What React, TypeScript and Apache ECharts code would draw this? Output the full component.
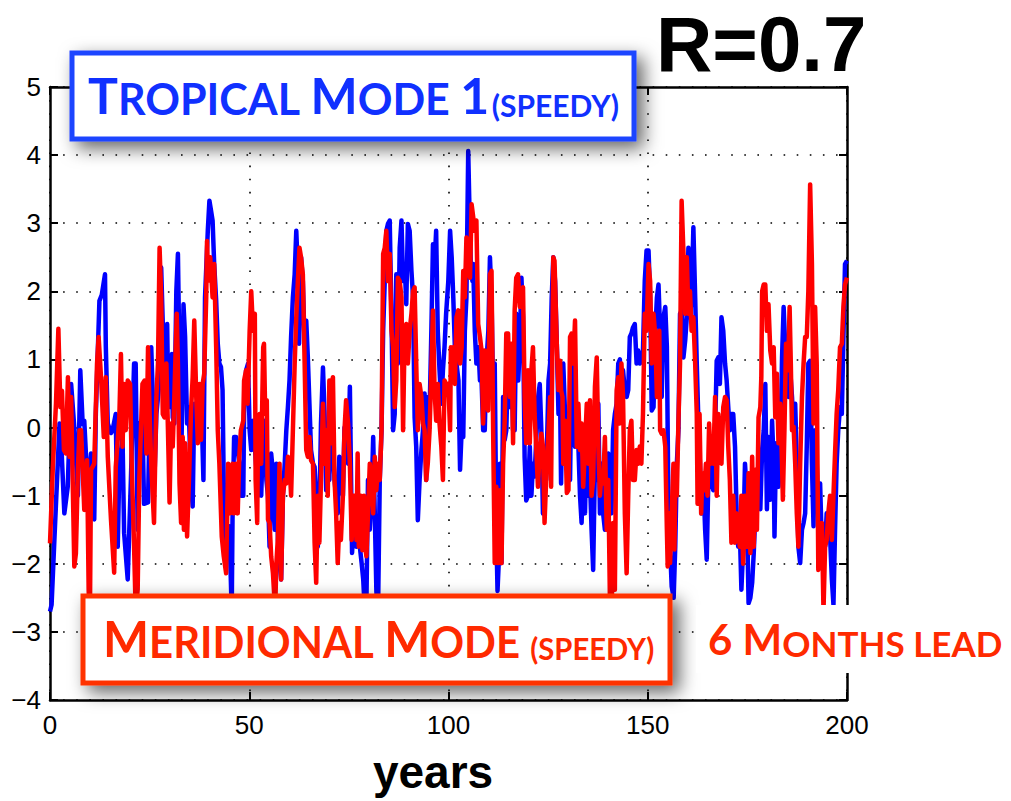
import React, { useEffect, useRef } from "react";
import * as echarts from "echarts";

// Tropical Mode 1 (SPEEDY) — [year, value]
const tropicalMode1: [number, number][] = [
  [0,-2.7],[0.4,-2.6],[1.1,-1.65],[1.95,-0.53],[2.4,0.06],[2.8,-0.2],[3.6,-1.26],[4.45,-0.87],[5.3,0.64],[6.1,0.0],[7.0,-1.0],[7.6,0.84],[8.2,0.05],[8.6,0.1],[9.5,-0.96],[10.3,-0.38],[11.1,-1.35],[11.5,0.2],[12.4,1.86],[13.0,1.95],[13.8,2.25],[14.0,1.2],[14.5,0.06],[15.3,-0.08],[15.7,-0.04],[16.5,0.2],[17.0,-1.75],[17.4,-0.58],[18.2,-0.14],[18.6,-1.55],[19.5,-2.23],[20.3,-0.77],[21.1,0.94],[21.5,0.94],[22.0,-1.5],[22.4,0.06],[23.2,0.1],[23.6,-1.12],
  [24.6,-1.1],[25.0,0.15],[25.4,1.18],[25.8,0.45],[26.2,-0.77],[26.7,0.2],[27.5,0.69],[27.9,2.35],[28.3,1.52],[28.7,0.45],[29.4,1.52],[29.7,0.3],[30.2,0.3],[30.6,1.08],[30.8,0.15],[31.2,0.06],[31.7,2.0],[32.1,2.55],[32.5,0.94],[32.9,-0.67],[33.5,1.81],[33.9,1.33],[34.4,0.06],[34.8,0.3],[35.4,-0.82],[35.8,-1.16],[36.2,0.35],[36.9,0.3],[37.2,-0.18],[37.9,0.55],[38.5,-0.77],[38.9,1.91],[39.6,2.89],[40.0,3.33],[40.4,3.19],[40.8,3.04],[41.2,2.4],[41.7,1.86],[42.1,1.23],[42.5,0.94],[42.9,0.89],[43.3,0.55],[43.7,-1.3],[44.2,-1.89],[45.0,-1.45],[45.6,-2.7],[45.8,-1.35],[46.2,-0.14],[46.7,-0.14],[47.5,-0.53],[47.9,-1.0],[48.5,-1.0],[48.7,0.2],[49.2,0.84],
  [49.7,0.94],[50.1,-0.04],[50.5,-0.33],[50.95,0.1],[51.4,-0.28],[51.8,-0.62],[52.2,-1.0],[52.6,-0.53],[53.0,-1.0],[53.5,-0.04],[53.9,0.1],[54.3,-0.77],[54.7,-1.0],[55.1,-1.75],[55.5,-0.38],[55.95,-0.67],[56.4,-1.5],[56.8,-0.53],[57.2,-1.65],[57.6,-1.99],[58.0,-2.23],[58.45,-1.0],[58.9,-0.53],[59.3,-0.04],[59.7,0.3],[60.1,0.69],[60.5,1.33],[60.95,1.91],[61.4,2.25],[61.8,2.89],[62.2,2.3],[62.5,1.23],[63.0,2.5],[63.45,2.15],[63.9,1.18],[64.3,1.57],[64.7,1.03],[65.1,0.35],[65.5,-0.33],[66.0,-0.53],[66.4,-0.58],[66.8,-1.0],[67.2,-1.75],[67.6,-1.26],[68.0,0.06],[68.5,0.88],[68.9,0.2],[69.3,-0.92],[69.7,-0.04],[70.1,-0.77],[70.5,0.45],[70.95,-0.28],[71.4,-0.77],[72.2,-1.26],[72.6,-0.43],[73.0,-0.67],[73.5,-1.0],[73.9,0.0],
  [74.4,-0.04],[74.8,-0.53],[75.25,0.6],[75.5,-0.53],[75.8,-1.84],[76.3,-1.26],[76.9,-1.75],[77.3,-1.26],[77.75,-1.75],[78.2,-1.99],[78.6,-2.23],[79.0,-2.7],[79.4,-2.6],[79.8,-0.77],[80.25,-1.5],[80.7,-1.0],[81.1,-0.14],[81.5,-1.26],[81.9,-2.4],[82.3,-2.8],[82.75,-0.77],[83.2,-0.04],[83.6,1.42],[84.0,2.15],[84.4,2.89],[84.8,2.99],[85.25,3.04],[85.7,1.62],[86.1,-0.04],[86.5,0.2],[86.9,2.25],[87.3,0.94],[87.75,2.64],[88.2,3.04],[88.6,2.15],[89.0,2.4],[89.4,1.81],[89.8,2.99],[90.25,2.89],[90.7,2.3],[91.1,1.91],[91.5,0.15],[91.9,-0.28],[92.3,-1.36],[92.75,-0.77],[93.2,-0.33],[93.6,-0.04],[94.0,0.5],[94.4,-0.77],[94.8,0.45],[95.25,0.2],[95.7,1.42],[96.1,2.69],[96.5,2.4],[96.9,2.89],[97.3,1.42],[97.75,0.84],[98.2,0.35],[98.6,0.84],[99.0,1.18],[99.4,1.67],
  [99.95,2.15],[100.4,2.89],[100.8,2.5],[101.2,1.91],[101.6,1.18],[102.0,0.94],[102.5,0.69],[102.9,-0.62],[103.3,-0.04],[103.7,-0.14],[104.1,1.42],[104.5,1.91],[104.95,4.06],[105.2,3.37],[105.6,2.4],[106.0,2.15],[106.2,2.4],[106.6,1.42],[107.0,0.94],[107.5,1.18],[107.9,0.69],[108.3,0.69],[108.7,-0.04],[109.1,-0.04],[109.5,0.94],[110.0,1.42],[110.4,2.5],[110.8,1.91],[111.2,0.45],[111.6,0.94],[112.0,-1.5],[112.3,-2.4],[112.6,-1.99],[112.9,-0.53],[113.3,-1.99],[113.7,0.45],[114.1,-0.18],[114.5,-0.04],[114.95,0.94],[115.4,0.3],[115.8,1.13],[116.2,-0.04],[116.6,-0.04],[117.0,1.67],[117.5,0.69],[117.9,1.23],[118.3,2.2],[118.7,1.62],[119.1,-0.43],[119.5,-1.07],[119.95,-1.0],[120.4,-0.28],[120.8,-1.0],[121.2,-0.53],[121.6,-0.72],[122.5,0.45],[122.9,0.64],[123.3,-0.04],[123.7,-1.26],[124.1,-0.53],[124.5,-0.77],
  [125.1,0.69],[125.5,0.94],[125.9,1.91],[126.3,2.5],[126.75,2.15],[127.2,1.18],[127.6,0.2],[128.0,0.45],[128.25,-0.82],[128.8,0.94],[129.25,0.2],[129.7,-0.53],[130.1,-0.53],[130.5,-0.77],[130.9,0.94],[131.3,1.33],[131.75,-0.28],[132.2,0.2],[132.6,-0.28],[133.0,-1.0],[133.4,-1.4],[133.8,-0.53],[134.25,-1.26],[134.7,-0.04],[135.1,-1.0],[135.5,-0.77],[135.9,-1.5],[136.3,-2.09],[136.75,-0.53],[137.2,-0.77],[137.6,0.35],[138.0,-1.26],[138.4,-0.53],[138.8,-1.26],[139.25,-1.5],[139.7,-0.53],[140.1,-0.38],[140.5,-0.72],[140.9,-1.26],[141.3,-0.04],[141.75,0.2],[142.2,0.35],[142.6,0.94],[143.0,1.0],[143.4,0.45],[143.8,0.84],[144.25,0.55],[144.7,0.45],[145.1,0.55],[145.5,1.33],[145.9,1.38],[146.3,1.47],[146.75,1.52],[147.2,0.94],[147.6,1.13],[148.0,0.94],[148.4,0.98],[148.8,1.13],[149.25,2.15],[149.7,2.6],
  [150.2,2.6],[150.6,1.91],[151.0,0.25],[151.45,0.3],[151.9,1.42],[152.3,1.91],[152.7,2.1],[153.1,1.42],[153.5,0.45],[153.95,1.62],[154.4,1.77],[154.8,1.18],[155.2,-1.26],[155.6,-1.75],[156.0,-2.33],[156.5,-2.5],[156.9,-1.75],[157.3,-0.53],[157.7,-0.04],[158.1,1.67],[158.55,1.72],[158.95,1.03],[159.4,1.28],[159.8,1.62],[160.2,2.64],[160.6,1.62],[161.0,1.91],[161.45,2.94],[161.9,1.91],[162.3,0.94],[162.7,0.1],[163.1,-0.53],[163.5,-1.26],[163.95,-0.77],[164.4,-1.5],[164.8,-1.94],[165.2,-0.77],[165.6,-0.53],[166.0,-0.82],[166.45,-0.92],[166.9,-0.04],[167.3,0.98],[167.7,1.03],[168.1,0.64],[168.5,1.62],[168.95,1.42],[169.4,0.94],[169.8,0.69],[170.2,0.3],[170.6,-0.04],[171.0,0.2],[171.45,0.2],[171.9,-0.28],[172.3,-1.26],[172.7,-1.75],[173.1,-1.5],[173.5,-2.38],[173.95,-1.75],[174.4,-0.53],[174.8,-0.92],
  [175.3,-2.58],[175.75,-2.5],[176.2,-2.28],[176.6,-1.84],[177.0,-1.26],[177.4,-0.77],[177.8,-0.77],[178.25,-1.2],[178.7,-0.33],[179.1,-0.04],[179.5,0.64],[179.9,-1.2],[180.3,-0.14],[180.75,-1.06],[181.2,0.1],[181.6,-0.53],[181.8,-1.6],[182.2,-0.23],[182.4,-0.53],[182.8,-0.87],[183.25,-0.43],[183.7,1.03],[184.1,1.77],[184.5,1.18],[184.9,0.94],[185.3,0.45],[185.75,0.84],[186.2,0.45],[186.6,-0.04],[187.0,0.35],[187.4,-0.53],[187.8,-1.75],[188.25,-1.99],[188.7,-1.5],[189.1,-1.4],[189.5,-1.26],[189.9,-0.28],[190.3,0.94],[190.75,0.98],[191.2,-0.53],[191.6,-1.45],[192.0,-0.04],[192.4,-0.53],[192.8,-1.26],[193.25,-0.82],[193.7,-1.75],[194.1,-1.5],[194.5,-1.75],[194.9,-1.26],[195.3,-1.5],[195.75,-1.6],[196.2,-2.23],[196.6,-2.6],[197.0,-1.5],[197.4,-0.53],[197.8,-0.04],[198.25,0.3],[198.7,0.2],[199.1,1.33],[199.5,2.4],[200,2.45],
];

// Meridional Mode (SPEEDY), 6 months lead — [year, value]
const meridionalMode: [number, number][] = [
  [0,-1.7],[0.7,-0.6],[1.5,0.35],[2.1,1.45],[2.6,0.3],[3.0,0.54],[3.5,-0.33],[4.0,-0.38],[4.5,0.74],[4.9,-0.43],[5.3,0.45],[6.1,-2.04],[6.5,-1.85],[7.0,-0.62],[7.4,-0.04],[7.8,-0.04],[8.6,-1.21],[9.3,-0.48],[9.7,-2.38],[10.0,-2.9],[10.3,-0.62],[11.1,-0.53],[11.8,0.94],[12.2,1.33],[12.8,0.74],[13.5,-0.14],[14.0,0.74],[14.5,-0.43],[15.3,-1.35],[16.1,-2.13],[16.5,-0.58],[17.4,0.15],[17.8,1.08],[18.2,-0.28],[18.6,0.64],[19.0,-0.04],[19.5,0.69],[20.1,0.64],[20.5,-0.53],[21.1,-1.75],[21.5,-2.7],[22.0,-2.38],[22.4,-0.77],[23.2,0.64],
  [23.74,0.69],[24.2,-0.38],[24.6,1.18],[25.0,0.2],[25.4,-0.53],[26.1,-1.4],[26.7,0.45],[27.1,0.94],[27.5,2.64],[27.9,1.91],[28.3,0.2],[28.7,0.15],[29.2,0.94],[29.6,-0.04],[30.0,-1.1],[30.4,0.06],[30.8,-0.28],[31.2,0.45],[31.8,1.67],[32.1,0.94],[32.5,-0.82],[32.9,-1.4],[33.3,-0.14],[33.6,-1.5],[33.9,-0.23],[34.4,-1.6],[35.0,-0.53],[35.4,0.25],[35.8,0.74],[36.2,1.57],[36.7,0.45],[37.1,-0.23],[37.5,0.64],[37.9,-0.18],[38.3,0.64],[38.7,0.79],[39.2,1.91],[39.4,2.74],[39.7,2.16],[40.2,2.5],[40.8,1.91],[41.2,2.4],[41.7,1.18],[42.1,-0.04],[42.5,-0.53],[43.1,-1.6],[43.6,-1.89],[44.2,-2.14],[44.7,-0.53],[45.2,-1.26],[45.8,-0.53],[46.2,-1.26],[46.7,-0.53],[47.1,-1.26],[47.5,-0.43],[47.9,-0.04],[48.5,0.1],[48.7,0.69],[49.2,0.84],[49.6,0.35],
  [50.1,1.42],[50.5,2.0],[50.95,1.42],[51.4,1.67],[51.6,-0.77],[52.0,-1.4],[52.2,-0.04],[52.6,0.2],[53.0,-0.53],[53.5,1.18],[53.7,1.23],[54.0,0.2],[54.4,0.4],[54.7,-1.35],[55.1,-1.4],[55.5,-1.89],[55.95,-2.14],[56.5,-2.7],[56.8,-2.0],[57.2,-1.6],[57.6,-0.53],[58.0,-2.23],[58.45,-1.0],[58.9,-0.77],[59.3,-0.82],[59.7,-0.43],[60.1,-0.53],[60.5,-1.0],[60.95,-0.04],[61.4,0.94],[61.8,1.62],[62.2,2.15],[62.6,2.64],[63.0,2.5],[63.45,2.25],[63.9,0.94],[64.3,-0.33],[64.7,-0.43],[65.1,-0.14],[65.5,-0.48],[66.0,-0.53],[66.4,-1.69],[66.8,-2.28],[67.2,-1.0],[67.6,-1.69],[68.0,-0.77],[68.5,0.35],[68.9,-0.53],[69.3,-0.04],[69.7,-1.0],[70.1,0.69],[70.4,-0.23],[70.7,0.64],[71.0,0.74],[71.4,-0.77],[71.8,-1.26],[72.2,-1.99],[72.6,-1.4],[73.0,-1.65],[73.5,-1.0],[73.9,-0.04],[74.3,0.4],
  [74.8,0.06],[75.25,-0.53],[75.7,-1.65],[76.1,-1.0],[76.5,-1.0],[76.9,-1.65],[77.2,-0.38],[77.5,-1.75],[78.0,-1.0],[78.4,-1.8],[78.8,-1.0],[79.2,-1.8],[79.4,-1.89],[79.8,-1.26],[80.25,-0.53],[80.7,-0.77],[81.1,-1.26],[81.5,-0.43],[81.9,-0.92],[82.3,-0.53],[82.75,-0.77],[83.2,-0.04],[83.6,2.55],[84.0,2.64],[84.4,2.89],[84.8,2.15],[85.25,2.55],[85.7,1.42],[86.1,1.18],[86.5,0.3],[86.9,0.69],[87.3,2.2],[87.75,2.15],[88.2,1.91],[88.6,-0.04],[89.0,1.42],[89.4,1.52],[89.8,0.94],[90.25,1.42],[90.7,1.67],[91.1,2.0],[91.5,2.06],[91.9,0.94],[92.3,-0.04],[92.75,0.64],[93.2,0.45],[93.6,0.06],[94.0,-0.04],[94.4,-0.77],[94.8,-0.53],[95.25,-0.04],[95.7,0.84],[96.1,1.72],[96.5,0.55],[96.9,0.1],[97.3,0.64],[97.75,0.06],[98.2,-0.28],[98.6,-0.77],[99.0,0.69],[99.4,0.64],
  [99.95,0.64],[100.4,-0.04],[100.6,1.18],[100.95,0.69],[101.2,1.18],[101.6,0.64],[102.0,1.62],[102.45,1.72],[102.9,0.94],[103.3,1.18],[103.7,2.3],[104.1,1.91],[104.5,2.79],[104.95,2.4],[105.4,2.2],[105.8,3.28],[106.2,3.09],[106.6,2.89],[107.0,3.04],[107.45,1.52],[107.9,1.33],[108.3,1.13],[108.7,0.06],[109.1,1.13],[109.5,0.45],[109.95,0.25],[110.4,2.25],[110.8,2.3],[111.2,-0.04],[111.6,-1.99],[112.0,-0.87],[112.45,-1.99],[112.9,-0.92],[113.3,-1.99],[113.7,-0.53],[114.1,0.1],[114.5,1.38],[114.95,1.38],[115.4,0.45],[115.8,1.23],[116.2,-0.23],[116.6,1.72],[117.0,2.2],[117.45,2.25],[117.9,1.77],[118.3,1.91],[118.7,2.06],[119.1,0.45],[119.5,-0.23],[119.95,0.84],[120.4,-0.23],[120.8,0.84],[121.2,1.18],[121.6,0.2],[122.0,-0.28],[122.45,-0.87],[122.9,-0.33],[123.3,-0.09],[123.7,-0.28],[124.1,-1.4],[124.5,-0.77],
  [125.1,-0.04],[125.5,0.45],[125.75,-0.87],[126.1,1.42],[126.3,2.5],[126.6,2.45],[126.9,1.81],[127.2,1.18],[127.6,0.55],[128.0,0.98],[128.25,0.55],[128.6,0.45],[128.8,-0.53],[129.25,0.1],[129.7,-0.96],[130.1,-0.92],[130.5,1.33],[130.9,1.38],[131.3,0.94],[131.75,1.57],[132.2,-0.28],[132.6,0.35],[133.0,-0.33],[133.4,0.06],[133.8,-0.87],[134.25,-0.28],[134.7,0.35],[135.1,-0.53],[135.5,0.4],[135.9,-1.0],[136.3,-0.77],[136.75,0.6],[137.2,1.03],[137.6,-0.28],[138.0,-1.0],[138.4,-0.67],[138.8,-0.82],[139.25,-0.14],[139.7,-1.5],[140.1,-0.77],[140.5,-2.5],[140.9,-2.9],[141.3,-1.4],[141.75,-2.38],[142.2,0.55],[142.6,0.74],[143.0,0.06],[143.4,0.94],[143.8,0.45],[144.25,-1.26],[144.7,-2.14],[145.1,-1.0],[145.5,-0.04],[145.9,0.1],[146.3,-0.77],[146.75,-0.77],[147.2,-0.33],[147.6,-0.53],[148.0,-0.28],[148.4,-0.53],[148.8,0.2],[149.25,1.67],[149.7,1.42],
  [150.2,2.4],[150.6,2.15],[151.0,0.94],[151.45,1.67],[151.9,1.33],[152.3,0.45],[152.5,0.94],[152.9,1.42],[153.1,-0.04],[153.5,-0.09],[153.95,-0.04],[154.4,-0.28],[154.8,-1.5],[155.0,-2.04],[155.4,-1.26],[155.6,-1.99],[156.0,-1.26],[156.45,-0.53],[156.7,-1.79],[157.0,-0.53],[157.3,-1.0],[157.7,0.1],[158.1,0.94],[158.5,3.33],[159.0,2.5],[159.4,1.67],[159.8,2.5],[160.2,1.67],[160.6,2.0],[161.0,1.42],[161.45,1.62],[161.9,0.94],[162.3,0.2],[162.5,-1.12],[163.0,0.2],[163.4,-1.26],[163.7,-0.67],[164.2,-0.92],[164.6,-0.53],[165.0,-1.0],[165.4,0.06],[165.8,-0.53],[166.0,-0.14],[166.45,-0.53],[166.9,0.45],[167.3,-1.0],[167.7,0.2],[168.1,-0.18],[168.5,-0.53],[168.95,0.3],[169.4,0.45],[169.8,0.4],[170.2,-0.28],[170.6,-0.77],[171.0,-1.69],[171.45,-1.0],[171.9,-1.69],[172.3,-1.26],[172.7,-1.5],[173.1,-1.75],[173.5,-1.0],[173.95,-2.0],[174.4,-1.0],
  [174.9,-1.75],[175.3,-0.67],[175.75,-1.84],[176.2,-0.43],[176.6,-1.75],[177.0,-0.62],[177.4,-1.5],[177.8,0.15],[178.25,0.3],[178.5,0.74],[178.7,2.0],[179.1,2.1],[179.5,2.1],[179.9,1.42],[180.3,1.81],[180.75,1.13],[181.2,0.94],[181.6,1.18],[182.0,0.15],[182.4,0.79],[182.8,-0.23],[183.25,0.35],[183.7,-0.53],[183.9,-1.06],[184.3,-0.04],[184.7,1.23],[185.2,0.84],[185.6,1.77],[185.9,0.94],[186.2,-0.04],[186.6,0.01],[187.0,-0.53],[187.4,-1.26],[187.8,-1.75],[188.25,-0.53],[188.7,0.45],[189.1,0.94],[189.5,1.33],[189.9,1.33],[190.3,2.0],[190.75,3.57],[191.2,2.4],[191.6,0.06],[192.0,1.77],[192.4,0.94],[192.8,-2.09],[193.25,-1.75],[193.7,-1.4],[194.1,-2.7],[194.5,-1.75],[194.9,-1.65],[195.3,-1.26],[195.75,-1.0],[196.2,-1.65],[196.6,-1.0],[197.0,-0.38],[197.4,0.2],[197.8,0.55],[198.25,1.18],[198.7,1.23],[199.1,1.77],[199.5,2.1],[200,2.2],
];

const xMin = 0, xMax = 200, xStep = 50;
const yMin = -4, yMax = 5, yStep = 1;

const BLUE_TXT = "#1030ff";
const RED_TXT = "#ff2a00";
const boxFont = "Lato";

const fmtY = (v: number) => (v < 0 ? "\u2212" + Math.abs(v) : String(v));

export default function App() {
  const ref = useRef<HTMLDivElement>(null);
  useEffect(() => {
    const chart = echarts.init(ref.current!, undefined, { renderer: "svg" });
    const frameLine = { show: true, onZero: false, lineStyle: { color: "#000", width: 2.5 } };
    const tick = { show: true, inside: true, length: 8, lineStyle: { color: "#000", width: 2 } };
    const grid = { show: true, lineStyle: { color: "#000", width: 1.6, type: [1.6, 11.5] as any } };
    const label = { fontSize: 26, color: "#000", fontFamily: "Liberation Sans" };
    const tok = (size: number, color: string) => ({
      fontSize: size, lineHeight: size, fontFamily: boxFont, fontWeight: "bold", fill: color, color, verticalAlign: "bottom",
    });
    const richSmallCaps = (color: string, big: number, sm: number, xs: number) => ({
      big: tok(big, color), sm: tok(sm, color), xs: tok(xs, color),
    });
    const option: any = {
      animation: false,
      backgroundColor: "#fff",
      grid: { left: 50, right: 164, top: 87, bottom: 101, containLabel: false },
      xAxis: [
        {
          type: "value", min: xMin, max: xMax, interval: xStep, position: "bottom",
          axisLine: frameLine, axisTick: tick, splitLine: grid,
          axisLabel: { ...label, margin: 12 },
        },
        {
          type: "value", min: xMin, max: xMax, interval: xStep, position: "top",
          axisLine: frameLine, axisTick: tick, splitLine: { show: false }, axisLabel: { show: false },
        },
      ],
      yAxis: [
        {
          type: "value", min: yMin, max: yMax, interval: yStep, position: "left",
          axisLine: frameLine, axisTick: tick, splitLine: grid,
          axisLabel: { ...label, margin: 9, formatter: fmtY },
        },
        {
          type: "value", min: yMin, max: yMax, interval: yStep, position: "right",
          axisLine: frameLine, axisTick: tick, splitLine: { show: false }, axisLabel: { show: false },
        },
      ],
      series: [
        {
          name: "Tropical Mode 1 (SPEEDY)", type: "line", data: tropicalMode1,
          showSymbol: false, symbol: "none", clip: true,
          lineStyle: { color: "#0000ff", width: 4.5, join: "round" },
        },
        {
          name: "Meridional Mode (SPEEDY)", type: "line", data: meridionalMode,
          showSymbol: false, symbol: "none", clip: true,
          lineStyle: { color: "#ff0000", width: 4.5, join: "round" },
        },
      ],
      graphic: [
        {
          type: "rect", z: 100,
          shape: { x: 72, y: 53, width: 562, height: 86 },
          style: { fill: "#fff", stroke: "#1f45ff", lineWidth: 5, shadowBlur: 18, shadowColor: "rgba(0,0,0,0.6)", shadowOffsetX: 7, shadowOffsetY: 7 },
        },
        {
          type: "text", z: 101, x: 88, y: 95,
          style: {
            text: "{big|T}{sm|ROPICAL }{big|M}{sm|ODE }{big|1} {xs|(SPEEDY)}",
            align: "left", verticalAlign: "middle", rich: richSmallCaps(BLUE_TXT, 50, 43, 30),
            fontSize: 10, fontFamily: boxFont, fill: BLUE_TXT,
          },
        },
        {
          type: "rect", z: 100,
          shape: { x: 83, y: 596, width: 587, height: 87 },
          style: { fill: "#fff", stroke: "#ff3300", lineWidth: 5, shadowBlur: 18, shadowColor: "rgba(0,0,0,0.6)", shadowOffsetX: 7, shadowOffsetY: 7 },
        },
        {
          type: "text", z: 101, x: 103, y: 638, scaleX: 0.975,
          style: {
            text: "{big|M}{sm|ERIDIONAL }{big|M}{sm|ODE }{xs|(SPEEDY)}",
            align: "left", verticalAlign: "middle", rich: richSmallCaps(RED_TXT, 50, 43, 30),
          },
        },
        {
          type: "rect", z: 100,
          shape: { x: 696, y: 605, width: 315, height: 68 },
          style: { fill: "#fff" },
        },
        {
          type: "text", z: 101, x: 708, y: 639,
          style: {
            text: "{big|6 M}{sm|ONTHS LEAD}",
            align: "left", verticalAlign: "middle", rich: richSmallCaps(RED_TXT, 42, 35, 24),
          },
        },
        {
          type: "text", z: 101, x: 656, y: 44,
          style: {
            text: "R=0.7", fill: "#000", font: "bold 78px 'Liberation Sans'",
            align: "left", verticalAlign: "middle",
          },
        },
        {
          type: "text", z: 101, x: 433, y: 772,
          style: {
            text: "years", fill: "#000", font: "bold 46px 'Liberation Sans'",
            align: "center", verticalAlign: "middle",
          },
        },
      ],
    };
    chart.setOption(option);
    return () => chart.dispose();
  }, []);
  return (
    <div
      ref={ref}
      style={{ position: "absolute", left: 0, top: 0, width: 1011, height: 801, background: "#fff" }}
    />
  );
}
